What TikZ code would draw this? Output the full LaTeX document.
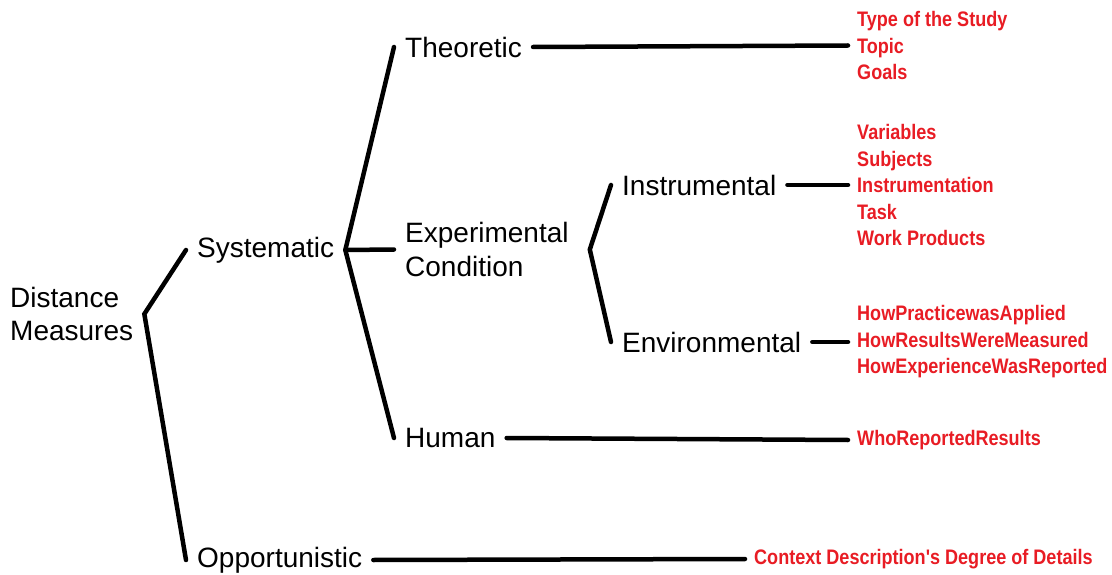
\documentclass[tikz,border=0pt]{standalone}
\usepackage{fontspec}
\setmainfont{Liberation Sans}
\newfontfamily\redfont{Liberation Sans}[FakeStretch=0.86]
\definecolor{redtxt}{RGB}{232,28,36}
\begin{document}
\begin{tikzpicture}[x=1pt,y=-1pt,
  lab/.style={inner xsep=11pt, inner ysep=2pt, anchor=west, font=\fontsize{28}{33.5}\selectfont, align=left},
  leaf/.style={inner xsep=9pt, inner ysep=0pt, anchor=west, text=redtxt, font=\redfont\bfseries\fontsize{21}{26.5}\selectfont, align=left},
  conn/.style={line width=4.5pt, line cap=round}]
\useasboundingbox (0,0) rectangle (1112,575);
% black labels
\node[lab] (dm) at (-1,314) {Distance\\Measures};
\node[lab] (sys) at (186,250) {Systematic};
\node[lab] (opp) at (186,560) {Opportunistic};
\node[lab] (theo) at (394,47) {Theoretic};
\node[lab] (exp) at (394,249.5) {Experimental\\Condition};
\node[lab] (hum) at (394,438) {Human};
\coordinate (v3) at ([xshift=10pt]exp.east);
\node[lab] (ins) at (611,185) {Instrumental};
\node[lab] (env) at (611,342) {Environmental};
% red leaves
\node[leaf] (g1) at (848,45.5) {Type of the Study\\Topic\\Goals};
\node[leaf] (g2) at (848,185) {Variables\\Subjects\\Instrumentation\\Task\\Work Products};
\node[leaf] (g3) at (848,342) {HowPracticewasApplied\\HowResultsWereMeasured\\HowExperienceWasReported};
\node[leaf] (who) at (848,440) {WhoReportedResults};
\node[leaf] (ctx) at (745,559) {Context Description's Degree of Details};
% connectors
\draw[conn] (sys.west) -- (dm.east) -- (opp.west);
\draw[conn] (theo.west) -- (sys.east) -- (hum.west);
\draw[conn] (sys.east) -- (exp.west);
\draw[conn] (ins.west) -- (v3) -- (env.west);
\draw[conn] (theo.east) -- (g1.west);
\draw[conn] (ins.east) -- (g2.west);
\draw[conn] (env.east) -- (g3.west);
\draw[conn] (hum.east) -- (who.west);
\draw[conn] (opp.east) -- (ctx.west);
\end{tikzpicture}
\end{document}
